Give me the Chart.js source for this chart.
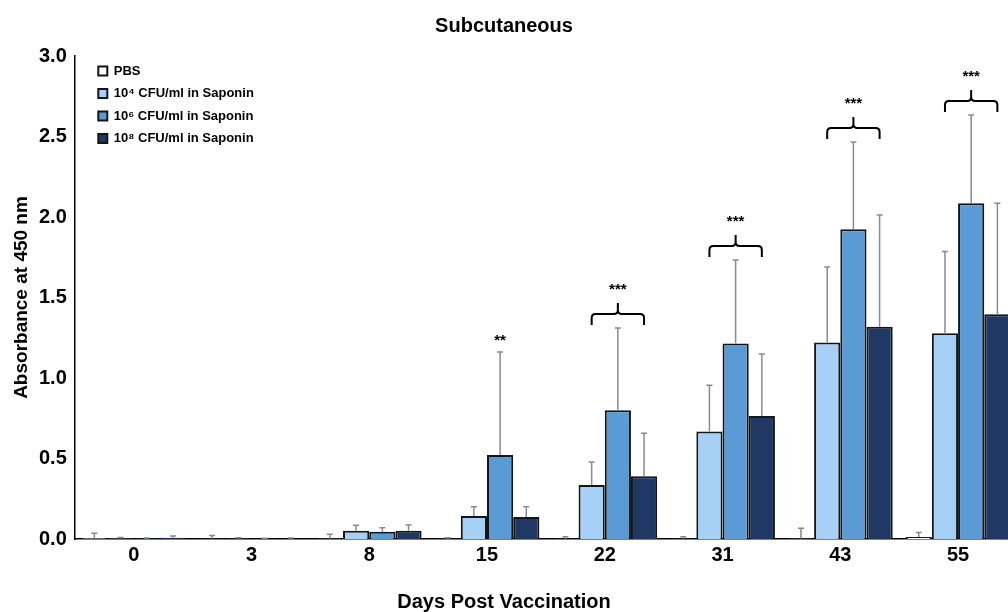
<!DOCTYPE html>
<html>
<head>
<meta charset="utf-8">
<script src="https://cdn.jsdelivr.net/npm/chart.js@4"></script>
<style>
  body { margin: 0; background: #fff; }
  #wrap { width: 1008px; height: 612px; }
</style>
</head>
<body>
<div id="wrap"><canvas id="chart"></canvas></div>
<script>
const days = ['0', '3', '8', '15', '22', '31', '43', '55'];

const pbs    = [0.005, 0.002, 0.003, 0.002, 0.002, 0.002, 0.003, 0.012];
const pbsErr = [0.030, 0.020, 0.027, 0.006, 0.012, 0.012, 0.063, 0.028];
const c4     = [0.004, 0.003, 0.052, 0.143, 0.335, 0.667, 1.220, 1.278];
const c4Err  = [0.006, 0.005, 0.033, 0.057, 0.143, 0.288, 0.470, 0.507];
const c6     = [0.003, 0.002, 0.045, 0.522, 0.800, 1.215, 1.924, 2.085];
const c6Err  = [0.003, 0.002, 0.025, 0.640, 0.510, 0.518, 0.542, 0.549];
const c8     = [0.008, 0.002, 0.052, 0.137, 0.390, 0.764, 1.319, 1.396];
const c8Err  = [0.011, 0.004, 0.035, 0.063, 0.267, 0.385, 0.693, 0.689];

// significance marks per day, bracket = spans the three vaccine groups
const sig     = ['', '', '', '**', '***', '***', '***', '***'];
const bracket = [false, false, false, false, true, true, true, true];

const FONT = '"Liberation Sans", Arial, sans-serif';
const errs = [pbsErr, c4Err, c6Err, c8Err];

function pts(arr) {
    return arr.map((v, i) => ({ x: i, y: v }));
}

// error bars (upper only) + brackets with stars
const extras = {
    id: 'extras',
    afterDatasetsDraw(chart) {
        const ctx = chart.ctx;
        const yS = chart.scales.y;
        const area = chart.chartArea;
        ctx.save();
        ctx.beginPath();
        ctx.rect(area.left, 0, chart.width - area.left, area.bottom);
        ctx.clip();

        ctx.strokeStyle = '#8a8a8a';
        ctx.lineWidth = 1.5;
        chart.data.datasets.forEach((ds, d) => {
            const meta = chart.getDatasetMeta(d);
            meta.data.forEach((bar, i) => {
                const top = yS.getPixelForValue(ds.data[i].y + errs[d][i]);
                ctx.beginPath();
                ctx.moveTo(bar.x, bar.y);
                ctx.lineTo(bar.x, top);
                ctx.moveTo(bar.x - 3, top);
                ctx.lineTo(bar.x + 3, top);
                ctx.stroke();
            });
        });

        ctx.strokeStyle = '#000';
        ctx.fillStyle = '#000';
        ctx.lineWidth = 2;
        ctx.font = 'bold 15px ' + FONT;
        ctx.textAlign = 'center';
        ctx.textBaseline = 'middle';
        sig.forEach((s, i) => {
            if (!s) return;
            let top = Infinity;
            chart.data.datasets.forEach((ds, d) => {
                top = Math.min(top, yS.getPixelForValue(ds.data[i].y + errs[d][i]));
            });
            const xm = chart.getDatasetMeta(2).data[i].x;
            if (!bracket[i]) {
                ctx.fillText(s, xm, top - 11);
                return;
            }
            const x1 = chart.getDatasetMeta(1).data[i].x;
            const x2 = chart.getDatasetMeta(3).data[i].x;
            const yEnd = top - 3, yH = yEnd - 11, yTip = yH - 11;
            ctx.beginPath();
            ctx.moveTo(x1, yEnd);
            ctx.lineTo(x1, yH + 4);
            ctx.quadraticCurveTo(x1, yH, x1 + 4, yH);
            ctx.lineTo(xm - 4, yH);
            ctx.quadraticCurveTo(xm, yH, xm, yH - 4);
            ctx.lineTo(xm, yTip);
            ctx.moveTo(xm, yH - 4);
            ctx.quadraticCurveTo(xm, yH, xm + 4, yH);
            ctx.lineTo(x2 - 4, yH);
            ctx.quadraticCurveTo(x2, yH, x2, yH + 4);
            ctx.lineTo(x2, yEnd);
            ctx.stroke();
            ctx.fillText(s, xm, yTip - 13);
        });
        ctx.restore();
    }
};

// put the legend inside the plot, top-left, where the original sits
const legendShift = {
    id: 'legendShift',
    afterLayout(chart) {
        const lg = chart.legend;
        const a = chart.chartArea;
        const w = lg.width, h = lg.height;
        lg.left = a.left + 14; lg.right = lg.left + w;
        lg.top = a.top - 1; lg.bottom = lg.top + h;
    }
};

const border = '#151515';
function series(label, data, color) {
    return { label, data: pts(data), backgroundColor: color, borderColor: border, borderWidth: 2 };
}

new Chart(document.getElementById('chart'), {
    type: 'bar',
    data: {
        datasets: [
            series('PBS', pbs, '#ffffff'),
            series('10\u2074 CFU/ml in Saponin', c4, '#a7d0f6'),
            series('10\u2076 CFU/ml in Saponin', c6, '#5b9bd5'),
            series('10\u2078 CFU/ml in Saponin', c8, '#203864')
        ]
    },
    plugins: [extras, legendShift],
    options: {
        responsive: true,
        maintainAspectRatio: false,
        animation: false,
        categoryPercentage: 0.89,
        barPercentage: 1.0,
        layout: { padding: { top: 14, left: 0, right: 0, bottom: 0 } },
        plugins: {
            title: {
                display: true, text: 'Subcutaneous', color: '#000',
                font: { family: FONT, size: 20, weight: 'bold', lineHeight: 1.2 },
                padding: { top: 0, bottom: 18 }
            },
            // x-axis caption, centred on the page like the original
            subtitle: {
                display: true, position: 'bottom', text: 'Days Post Vaccination', color: '#000',
                font: { family: FONT, size: 20, weight: 'bold', lineHeight: 1 },
                padding: { top: 21, bottom: 0 }
            },
            legend: {
                position: 'chartArea',
                align: 'start',
                labels: {
                    color: '#000', boxWidth: 9, boxHeight: 9, padding: 9.5,
                    font: { family: FONT, size: 13, weight: 'bold' }
                }
            },
            tooltip: { enabled: false }
        },
        scales: {
            x: {
                type: 'linear', min: -0.5, max: 7.424, offset: false,
                grid: { display: false, tickLength: 0 },
                border: { display: true, color: '#000', width: 1.5 },
                ticks: {
                    stepSize: 1, includeBounds: false, autoSkip: false, maxRotation: 0,
                    padding: 4, color: '#000',
                    font: { family: FONT, size: 20, weight: 'bold' },
                    callback: (v) => Number.isInteger(v) ? days[v] : ''
                }
            },
            y: {
                min: 0, max: 3,
                grid: { display: false, tickLength: 0 },
                border: { display: true, color: '#000', width: 1.5 },
                ticks: {
                    stepSize: 0.5, padding: 8, color: '#000',
                    font: { family: FONT, size: 20, weight: 'bold' },
                    callback: (v) => v.toFixed(1)
                },
                title: {
                    display: true, text: 'Absorbance at 450 nm', color: '#000',
                    font: { family: FONT, size: 19, weight: 'bold', lineHeight: 1 },
                    padding: { top: 12, bottom: 0 }
                }
            }
        }
    }
});
</script>
</body>
</html>
